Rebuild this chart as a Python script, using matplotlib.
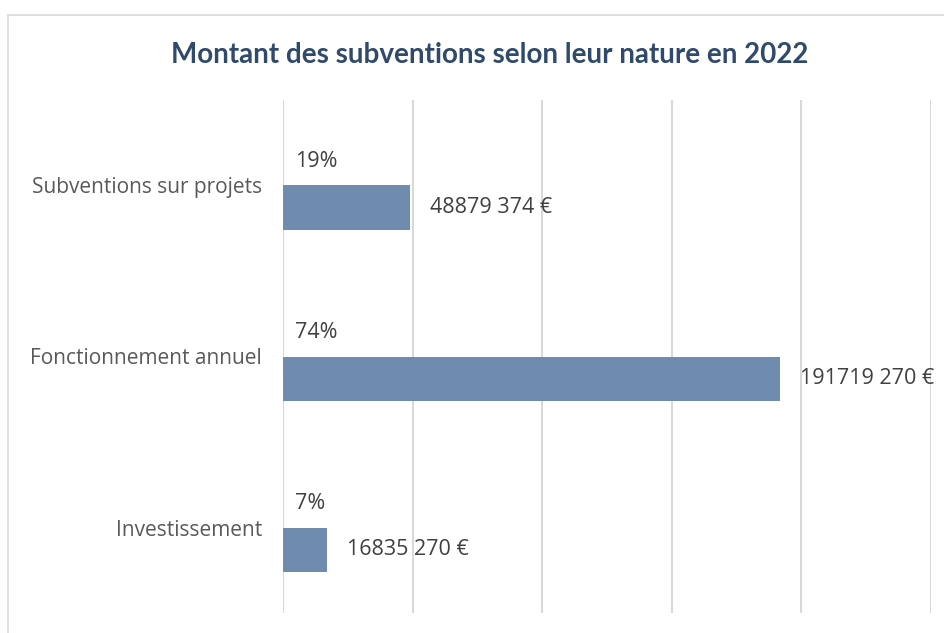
'''

  Montant des subventions selon leur nature en 2022

'''

import numpy as np
from matplotlib import pyplot as plt
from matplotlib.patches import Rectangle

# Data

categories = ['Investissement', 'Fonctionnement annuel', 'Subventions sur projets']
amounts = [16835270, 191719270, 48879374]
amount_labels = ['16835 270 €', '191719 270 €', '48879 374 €']
shares = ['7%', '74%', '19%']

# Figure

fig = plt.figure(figsize=(9.45, 6.33), dpi=100)
ax = fig.add_axes([283/945, 1 - 613/633, (931 - 283)/945, (613 - 100)/633])

y = np.arange(len(categories))
h = 0.263
ax.barh(y - h/2, amounts, height=h, color='#6F8CAE', zorder=3)

for i in range(len(categories)):
    ax.annotate(amount_labels[i], (amounts[i], y[i] - h/2), xytext=(14.5, 0),
                textcoords='offset points', va='center', ha='left',
                fontsize=15.5, color='#404040', family='Open Sans')
    ax.annotate(shares[i], (0, y[i] + h/2), xytext=(9, 1),
                textcoords='offset points', va='center', ha='left',
                fontsize=15.5, color='#404040', family='Open Sans')

ax.set_xlim(0, 250e6)
ax.set_ylim(-0.5, 2.5)
ax.set_xticks(np.arange(0, 250e6 + 1, 50e6))
ax.set_xticklabels([])
ax.tick_params(axis='x', length=0)
ax.set_yticks(y)
ax.set_yticklabels(categories, fontsize=15, color='#595959', family='Open Sans')
ax.tick_params(axis='y', length=0, pad=15)
ax.grid(axis='x', color='#D9D9D9', linewidth=1.5, zorder=0)
for s in ax.spines.values():
    s.set_visible(False)

fig.text(490/945, 1 - 55/633, 'Montant des subventions selon leur nature en 2022',
         ha='center', va='center', fontsize=20, fontweight='bold',
         color='#2F4A6B', family='Lato')

# Outer frame
fig.patches.append(Rectangle((8.5/945, -0.05), 1.1, 1 - 14.5/633 + 0.05,
                             transform=fig.transFigure, fill=False,
                             edgecolor='#D9D9D9', linewidth=1.2))

plt.savefig('out.png', dpi=100)
